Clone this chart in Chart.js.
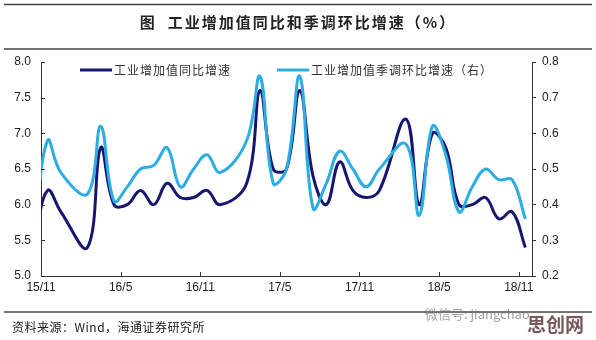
<!DOCTYPE html>
<html>
<head>
<meta charset="utf-8">
<script src="https://cdn.jsdelivr.net/npm/chart.js@4/dist/chart.umd.min.js"></script>
<style>
  html, body { margin: 0; padding: 0; background: #fff; }
  #wrap { width: 596px; height: 340px; position: relative; }
</style>
</head>
<body>
<div id="wrap"><canvas id="c" width="596" height="340"></canvas></div>
<script>
// monthly data, Jan is merged into Feb so it is missing
const months = [
  "2015-10", "2015-11", "2015-12", "2016-02", "2016-03", "2016-04", "2016-05",
  "2016-06", "2016-07", "2016-08", "2016-09", "2016-10", "2016-11", "2016-12",
  "2017-02", "2017-03", "2017-04", "2017-05", "2017-06", "2017-07", "2017-08",
  "2017-09", "2017-10", "2017-11", "2017-12", "2018-02", "2018-03", "2018-04",
  "2018-05", "2018-06", "2018-07", "2018-08", "2018-09", "2018-10", "2018-11",
];
const yoy = [
  5.5, 6.2, 5.9, 5.4, 6.8, 6.0, 6.0,
  6.2, 6.0, 6.3, 6.1, 6.1, 6.2, 6.0,
  6.3, 7.6, 6.5, 6.5, 7.6, 6.4, 6.0,
  6.6, 6.2, 6.1, 6.2, 7.2, 6.0, 7.0,
  6.8, 6.0, 6.0, 6.1, 5.8, 5.9, 5.4,
];
const mom = [
  0.32, 0.58, 0.49, 0.43, 0.62, 0.41, 0.45,
  0.50, 0.51, 0.56, 0.45, 0.50, 0.54, 0.49,
  0.58, 0.76, 0.46, 0.50, 0.76, 0.39, 0.46,
  0.55, 0.50, 0.45, 0.50, 0.57, 0.37, 0.62,
  0.54, 0.38, 0.45, 0.50, 0.47, 0.47, 0.36,
];
const tickLabels = ["15/11", "16/5", "16/11", "17/5", "17/11", "18/5", "18/11"];
const yoyName = "工业增加值同比增速";
const momName = "工业增加值季调环比增速（右）";

const NAVY = "#16166f";
const LIGHT = "#2badE3";
const TXT = "#222";
const AXIS = "#333";
const tickFont = { family: "'Liberation Sans', Arial, sans-serif", size: 12 };

// month offset from 2015-11, point sits mid-month
function monthPos(m) {
  const [y, mo] = m.split("-").map(Number);
  return (y - 2015) * 12 + (mo - 11) + 0.5;
}
const tickPos = tickLabels.map((t) => {
  const [y, mo] = t.split("/").map(Number);
  return (y - 15) * 12 + (mo - 11);
});

const yoyPts = months.map((m, i) => ({ x: monthPos(m), y: yoy[i] }));
const momPts = months.map((m, i) => ({ x: monthPos(m), y: mom[i] }));

const decor = {
  id: "decor",
  afterDraw(chart) {
    const { ctx, chartArea, scales } = chart;
    ctx.save();
    // rules
    ctx.strokeStyle = "#444";
    ctx.lineWidth = 1.5;
    for (const y of [4.5, 49, 312]) {
      ctx.beginPath();
      ctx.moveTo(4, y);
      ctx.lineTo(592, y);
      ctx.stroke();
    }
    // title
    ctx.fillStyle = TXT;
    ctx.font = "bold 15px 'Noto Sans CJK SC', sans-serif";
    ctx.letterSpacing = "2px";
    ctx.textAlign = "center";
    ctx.textBaseline = "middle";
    ctx.fillText("图  工业增加值同比和季调环比增速（%）", 298, 22);

    // inward ticks on left and bottom axes
    ctx.letterSpacing = "0px";
    ctx.strokeStyle = AXIS;
    ctx.lineWidth = 1;
    for (const t of scales.y.ticks) {
      const py = Math.round(scales.y.getPixelForValue(t.value)) + 0.5;
      ctx.beginPath();
      ctx.moveTo(chartArea.left, py);
      ctx.lineTo(chartArea.left + 4, py);
      ctx.stroke();
    }
    for (const t of scales.x.ticks) {
      const px = Math.round(scales.x.getPixelForValue(t.value)) + 0.5;
      ctx.beginPath();
      ctx.moveTo(px, chartArea.bottom);
      ctx.lineTo(px, chartArea.bottom - 4);
      ctx.stroke();
    }

    // legend
    ctx.lineWidth = 3;
    ctx.strokeStyle = NAVY;
    ctx.beginPath();
    ctx.moveTo(80, 70);
    ctx.lineTo(112, 70);
    ctx.stroke();
    ctx.strokeStyle = LIGHT;
    ctx.beginPath();
    ctx.moveTo(277, 70);
    ctx.lineTo(309, 70);
    ctx.stroke();
    ctx.fillStyle = "#333";
    ctx.font = "12px 'Noto Sans CJK SC', sans-serif";
    ctx.letterSpacing = "1px";
    ctx.textAlign = "left";
    ctx.fillText(yoyName, 114, 70);
    ctx.fillText(momName, 311, 70);

    // source
    ctx.fillStyle = TXT;
    ctx.letterSpacing = "0.5px";
    ctx.fillText("资料来源：Wind，海通证券研究所", 12, 327);

    // watermark
    ctx.letterSpacing = "0px";
    ctx.fillStyle = "rgba(120,120,120,0.7)";
    ctx.font = "13px 'Noto Sans CJK SC', sans-serif";
    ctx.fillText("微信号: jiangchao", 425, 314);
    ctx.fillStyle = "rgba(95,60,60,0.85)";
    ctx.font = "bold 19px 'Noto Sans CJK SC', sans-serif";
    ctx.fillText("思创网", 527, 325);
    ctx.restore();
  },
};

new Chart(document.getElementById("c"), {
  type: "line",
  data: {
    datasets: [
      {
        label: yoyName,
        data: yoyPts,
        yAxisID: "y",
        borderColor: NAVY,
        borderWidth: 3,
        pointRadius: 0,
        tension: 0.4,
        order: 2,
      },
      {
        label: momName,
        data: momPts,
        yAxisID: "y1",
        borderColor: LIGHT,
        borderWidth: 3,
        pointRadius: 0,
        tension: 0.4,
        order: 1,
      },
    ],
  },
  options: {
    responsive: false,
    animation: false,
    devicePixelRatio: 1,
    layout: { padding: { top: 62, left: 0, right: 0, bottom: 0 } },
    plugins: { legend: { display: false }, tooltip: { enabled: false } },
    scales: {
      x: {
        type: "linear",
        min: 0,
        max: 37,
        afterBuildTicks: (s) => {
          s.ticks = tickPos.map((v) => ({ value: v }));
        },
        afterFit: (s) => {
          s.height = 64;
        },
        ticks: {
          autoSkip: false,
          maxRotation: 0,
          padding: 4,
          color: TXT,
          font: tickFont,
          callback: (v) => tickLabels[tickPos.indexOf(v)],
        },
        grid: { drawOnChartArea: false, drawTicks: false },
        border: { display: true, color: AXIS, width: 1 },
      },
      y: {
        position: "left",
        min: 5,
        max: 8,
        afterFit: (s) => {
          s.width = 41;
        },
        ticks: {
          stepSize: 0.5,
          padding: 10,
          color: TXT,
          font: tickFont,
          callback: (v) => v.toFixed(1),
        },
        grid: { drawOnChartArea: false, drawTicks: false },
        border: { display: true, color: AXIS, width: 1 },
      },
      y1: {
        position: "right",
        min: 0.2,
        max: 0.8,
        afterFit: (s) => {
          s.width = 64;
        },
        ticks: {
          stepSize: 0.1,
          padding: 6,
          color: TXT,
          font: tickFont,
          callback: (v) => v.toFixed(1),
        },
        grid: { drawOnChartArea: false, drawTicks: true, tickLength: 4, color: AXIS },
        border: { display: true, color: AXIS, width: 1 },
      },
    },
  },
  plugins: [decor],
});
</script>
</body>
</html>
